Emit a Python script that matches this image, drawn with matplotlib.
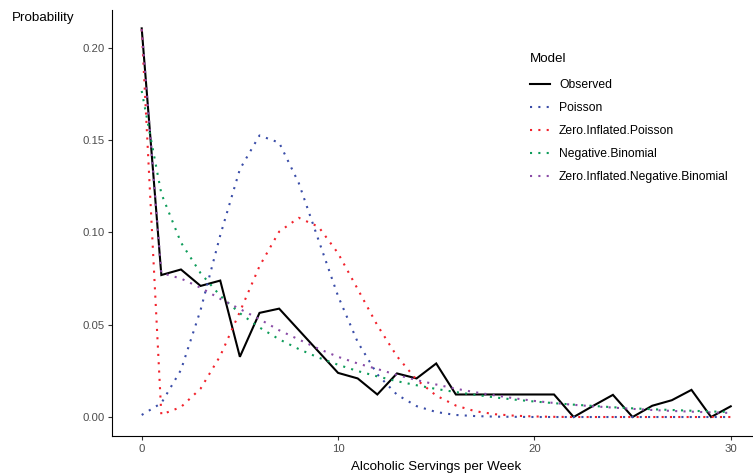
import matplotlib
matplotlib.use('Agg')
import matplotlib.pyplot as plt
from matplotlib.ticker import FixedLocator, FuncFormatter

plt.rcParams['font.family'] = ['Liberation Sans', 'DejaVu Sans']

servings = list(range(31))
observed = [0.2105, 0.0769, 0.0799, 0.0710, 0.0739, 0.0326, 0.0564, 0.0587,
            0.0471, 0.0355, 0.0239, 0.0209, 0.0122, 0.0236, 0.0209, 0.0290,
            0.0122, 0.0122, 0.0122, 0.0122, 0.0122, 0.0122, 0.0000, 0.0061,
            0.0120, 0.0000, 0.0061, 0.0091, 0.0147, 0.0000, 0.0058]
poisson = [0.0011, 0.0075, 0.0255, 0.0580, 0.0984, 0.1342, 0.1525, 0.1486,
           0.1267, 0.0960, 0.0655, 0.0406, 0.0231, 0.0121, 0.0059, 0.0027,
           0.0011, 0.0005, 0.0002, 0.0001, 0.0000, 0.0000, 0.0000, 0.0000,
           0.0000, 0.0000, 0.0000, 0.0000, 0.0000, 0.0000, 0.0000]
zero_inflated_poisson = [0.2100, 0.0013, 0.0054, 0.0154, 0.0331, 0.0570, 0.0817,
                         0.1004, 0.1079, 0.1031, 0.0887, 0.0693, 0.0497, 0.0329,
                         0.0202, 0.0116, 0.0062, 0.0031, 0.0015, 0.0007, 0.0003,
                         0.0001, 0.0000, 0.0000, 0.0000, 0.0000, 0.0000, 0.0000,
                         0.0000, 0.0000, 0.0000]
negative_binomial = [0.1766, 0.1210, 0.0945, 0.0779, 0.0657, 0.0562, 0.0485,
                     0.0421, 0.0368, 0.0322, 0.0283, 0.0249, 0.0220, 0.0194,
                     0.0172, 0.0152, 0.0135, 0.0120, 0.0106, 0.0094, 0.0084,
                     0.0075, 0.0067, 0.0060, 0.0053, 0.0047, 0.0042, 0.0038,
                     0.0034, 0.0030, 0.0027]
zero_inflated_negative_binomial = [0.2100, 0.0780, 0.0750, 0.0700, 0.0640, 0.0585,
                                   0.0530, 0.0470, 0.0420, 0.0370, 0.0326, 0.0290,
                                   0.0260, 0.0228, 0.0200, 0.0176, 0.0153, 0.0134,
                                   0.0117, 0.0101, 0.0087, 0.0076, 0.0066, 0.0058,
                                   0.0051, 0.0044, 0.0038, 0.0033, 0.0029, 0.0025,
                                   0.0022]

series = [
    ("Observed", observed, "black", "-"),
    ("Poisson", poisson, "#3A4DA8", (0, (1, 3))),
    ("Zero.Inflated.Poisson", zero_inflated_poisson, "#F2222C", (0, (1, 3))),
    ("Negative.Binomial", negative_binomial, "#0E9C5A", (0, (1, 3))),
    ("Zero.Inflated.Negative.Binomial", zero_inflated_negative_binomial, "#8A4BA6", (0, (1, 3))),
]

W, H = 753, 475
fig = plt.figure(figsize=(W / 100, H / 100), dpi=100)
left_px, right_px, top_px, bottom_px = 112.25, 760.2, 9.9, 436.4
ax = fig.add_axes([left_px / W, 1 - bottom_px / H,
                   (right_px - left_px) / W, (bottom_px - top_px) / H])

for i, (name, vals, col, ls) in enumerate(series):
    ax.plot(servings, vals, color=col, linestyle=ls, linewidth=1.5,
            label=name, zorder=2 + i, dash_capstyle='butt',
            solid_joinstyle='miter' if ls == '-' else 'round')

ax.set_xlim(-1.5, 31.5)
ax.set_ylim(-0.0105, 0.2205)
ax.xaxis.set_major_locator(FixedLocator([0, 10, 20, 30]))
ax.yaxis.set_major_locator(FixedLocator([0.0, 0.05, 0.10, 0.15, 0.20]))
ax.yaxis.set_major_formatter(FuncFormatter(lambda v, p: f"{v:.2f}"))

for s in ['top', 'right']:
    ax.spines[s].set_visible(False)
for s in ['left', 'bottom']:
    ax.spines[s].set_color('black')
    ax.spines[s].set_linewidth(0.8)
ax.tick_params(axis='both', which='major', length=3.0, width=0.8,
               color='#333333', labelcolor='#4D4D4D', labelsize=8.2, pad=2.5)

ax.set_xlabel("Alcoholic Servings per Week", fontsize=9.6, color='black', labelpad=5)
fig.text(11.5 / W, 1 - 18.5 / H, "Probability", fontsize=9.6, color='black',
         ha='left', va='center')

leg = ax.legend(loc='upper left', bbox_to_anchor=(530 / W, 1 - 53 / H),
                bbox_transform=fig.transFigure, frameon=False,
                title="Model", title_fontsize=9.6, fontsize=8.7,
                handlelength=1.65, handletextpad=0.75, labelspacing=0.92,
                borderpad=0, borderaxespad=0, alignment='left')
try:
    leg._legend_box.sep = leg._legend_box.sep + 2.0
except Exception:
    pass
for t in leg.get_texts():
    t.set_color('black')

fig.savefig("out.png", dpi=100)
